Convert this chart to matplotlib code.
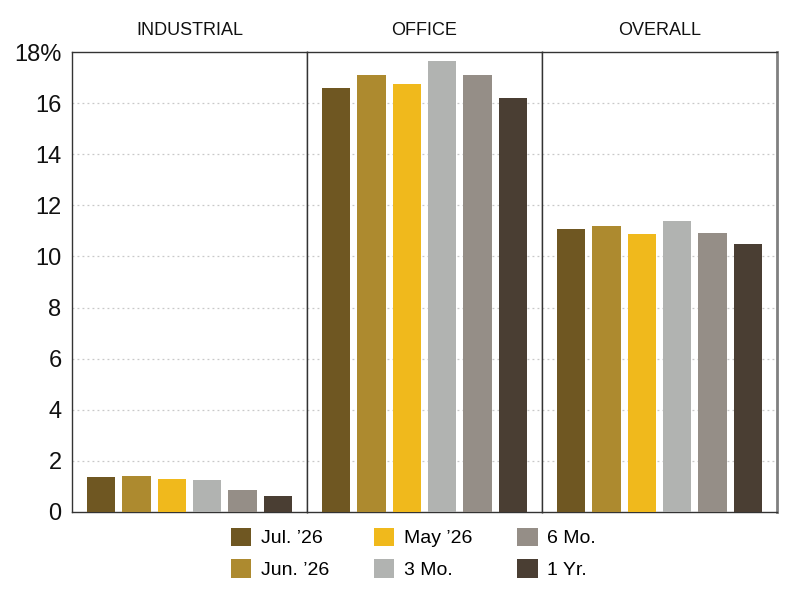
import matplotlib
matplotlib.use("Agg")
import matplotlib.pyplot as plt
from matplotlib.patches import Patch
import numpy as np

plt.rcParams['font.family'] = ['Liberation Sans', 'DejaVu Sans']

panels = ["INDUSTRIAL", "OFFICE", "OVERALL"]
series = ["Jul. \u201926", "Jun. \u201926", "May \u201926", "3 Mo.", "6 Mo.", "1 Yr."]
colors = ["#6f5722", "#ad8a2f", "#f0b91c", "#b1b3b1", "#958e87", "#4a3e33"]
industrial = [1.36, 1.40, 1.29, 1.24, 0.86, 0.61]
office = [16.58, 17.11, 16.75, 17.66, 17.11, 16.21]
overall = [11.09, 11.20, 10.86, 11.39, 10.92, 10.49]
values = [industrial, office, overall]
yticks = [0, 2, 4, 6, 8, 10, 12, 14, 16, 18]
ytick_labels = ["0", "2", "4", "6", "8", "10", "12", "14", "16", "18%"]

fig = plt.figure(figsize=(8, 6), dpi=100)
left, right = 72 / 800, 777 / 800
bottom, top = 1 - 512 / 600, 1 - 52 / 600
w = (right - left) / 3
x = np.arange(len(series))
for i, (name, vals) in enumerate(zip(panels, values)):
    ax = fig.add_axes([left + i * w, bottom, w, top - bottom])
    ax.bar(x, vals, width=0.8, color=colors, zorder=3)
    ax.set_xlim(-0.83, 5.83)
    ax.set_ylim(0, 18)
    ax.set_yticks(yticks)
    for yv in yticks[1:-1]:
        ax.axhline(yv, color="#c8c8c8", lw=0.9, ls=(0, (1.5, 2.5)), zorder=1)
    ax.set_xticks([])
    ax.set_title(name, fontsize=13, pad=12, color="#111111")
    if i == 0:
        ax.set_yticklabels(ytick_labels, fontsize=17, color="#111111")
        ax.tick_params(axis="y", length=0, pad=7.5)
    else:
        ax.tick_params(axis="y", length=0, labelleft=False)
    for s in ["top", "bottom", "left", "right"]:
        ax.spines[s].set_color("#333333")
        ax.spines[s].set_linewidth(1.0)
    if i == 2:
        ax.spines["right"].set_color("#808080")
        ax.spines["right"].set_linewidth(2.0)

handles = [Patch(facecolor=c, edgecolor="none") for c in colors]
fig.legend(handles, series, ncol=3, loc="upper left", bbox_to_anchor=(223 / 800, 1 - 520 / 600),
           frameon=False, fontsize=14, handlelength=1.05, handleheight=1.05,
           columnspacing=2.3, handletextpad=0.5, labelspacing=0.62, borderaxespad=0)
fig.savefig("out.png", dpi=100)
